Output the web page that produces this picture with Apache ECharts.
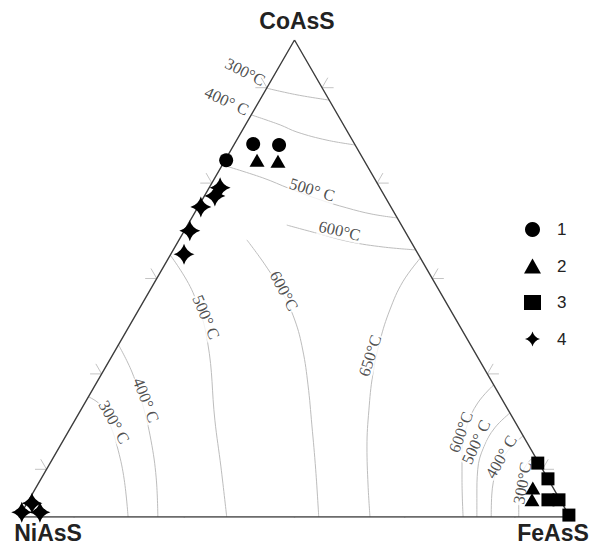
<!DOCTYPE html>
<html><head><meta charset="utf-8">
<script src="https://cdn.jsdelivr.net/npm/echarts@6/dist/echarts.min.js"></script>
<style>html,body{margin:0;padding:0;background:#fff}#c{width:590px;height:550px}</style>
</head><body><div id="c"></div>
<script>
// Compositions are [CoAsS, NiAsS, FeAsS] in percent
const vertexNames = ['CoAsS', 'NiAsS', 'FeAsS'];
const tickValues = [10, 30, 50, 70, 90];
const legendNames = ['1', '2', '3', '4'];

const group1 = [[74.8, 25.0, 0.2], [78.2, 18.4, 3.4], [78.0, 13.8, 8.2]];
const group2 = [[74.8, 19.4, 5.8], [74.6, 15.7, 9.7], [6.1, 3.7, 90.2], [3.6, 5.1, 91.3]];
const group3 = [[11.3, 0.2, 88.5], [8.0, 0.0, 92.0], [3.6, 2.2, 94.2], [3.6, 0.2, 96.2], [0.4, 0.0, 99.6]];
const group4 = [[69.0, 29.0, 2.0], [67.3, 30.8, 1.9], [65.0, 34.5, 0.5], [60.0, 39.0, 1.0], [55.1, 42.5, 2.4],
                [2.9, 96.2, 0.9], [1.0, 99.0, 0.0], [1.0, 95.7, 3.3]];

// isotherms
const isoTop300 = [[89.9, 10.1, 0], [88.5, 5.3, 6.2], [87.4, 0, 12.6]];
const isoTop400 = [[84.3, 15.7, 0], [82.2, 11.5, 6.3], [80.7, 9.2, 10.1], [79.0, 4.6, 16.4], [78.0, 0, 22.0]];
const isoTop500 = [[73.8, 26.2, 0], [71.1, 20.2, 8.7], [68.8, 16.4, 14.8], [66.5, 12.1, 21.4], [64.8, 8.1, 27.1], [63.5, 4.2, 32.3], [62.7, 0, 37.3]];
const isoTop600 = [[61.2, 20.8, 18.0], [59.5, 16.2, 24.3], [57.7, 11.1, 31.2], [56.6, 5.6, 37.8], [56.0, 0, 44.0]];
const isoMid500 = [[54.9, 45.1, 0], [47.0, 44.9, 8.1], [36.5, 47.5, 16.0], [20.3, 54.3, 25.4], [10.5, 58.1, 31.4], [0, 62.3, 37.7]];
const isoMid600 = [[58.1, 29.6, 12.3], [52.8, 28.9, 18.3], [47.2, 28.7, 24.1], [41.3, 29.3, 29.4], [35.0, 31.0, 34.0], [27.7, 33.7, 38.6], [19.3, 37.2, 43.5], [9.9, 41.2, 48.9], [0, 45.6, 54.4]];
const isoMid650 = [[54.3, 0, 45.7], [49.3, 5.7, 45.0], [43.4, 11.0, 45.6], [37.1, 15.9, 47.0], [29.8, 20.9, 49.3], [22.4, 25.3, 52.3], [14.7, 29.5, 55.8], [6.7, 33.3, 60.0], [0, 36.3, 63.7]];
const isoLeft400 = [[36.1, 63.9, 0], [30.4, 64.3, 5.3], [23.5, 65.8, 10.7], [16.1, 68.0, 15.9], [8.2, 71.0, 20.8], [0, 74.8, 25.2]];
const isoLeft300 = [[25.2, 74.8, 0], [23.5, 73.5, 3.0], [19.3, 73.8, 6.9], [14.0, 75.0, 11.0], [7.8, 77.0, 15.2], [0, 80.2, 19.8]];
const isoRight600 = [[27.7, 0, 72.3], [23.9, 4.8, 71.3], [19.3, 9.0, 71.7], [14.0, 12.6, 73.4], [7.8, 15.7, 76.5], [0, 19.4, 80.6]];
const isoRight500 = [[21.8, 0, 78.2], [18.7, 4.3, 77.0], [14.7, 8.3, 77.0], [9.9, 11.8, 78.3], [4.6, 14.6, 80.8], [0, 16.9, 83.1]];
const isoRight400 = [[17.0, 0, 83.0], [14.0, 4.2, 81.8], [9.9, 8.3, 81.8], [4.6, 11.9, 83.5], [0, 14.3, 85.7]];
const isoRight300 = [[12.8, 0, 87.2], [10.9, 2.5, 86.6], [8.2, 4.8, 87.0], [4.6, 7.0, 88.4], [0, 9.3, 90.7]];

const isoLabels = ['300°C', '400° C', '500° C', '600°C', '500° C', '600°C', '650°C', '400° C', '300° C', '600°C', '500° C', '400° C', '300°C'];
const isoLabelAt = [[93.3, 12.3, -5.6], [87.2, 18.7, -5.9], [68.6, 12.5, 18.9], [60.0, 11.8, 28.2], [41.9, 45.1, 13.0],
                    [47.4, 28.2, 24.4], [33.8, 19.4, 46.8], [24.5, 64.7, 10.8], [19.9, 72.8, 7.3], [17.8, 10.9, 71.3],
                    [15.7, 9.2, 75.1], [12.6, 6.2, 81.2], [7.1, 5.1, 87.8]];

// ---------- rendering ----------
const H = Math.sqrt(3) / 2;
function toXY(p) {
  const s = p[0] + p[1] + p[2];
  const a = p[0] / s, c = p[2] / s;
  return [c + a / 2, a * H];
}
const isoCurves = [isoTop300, isoTop400, isoTop500, isoTop600, isoMid500, isoMid600, isoMid650,
                   isoLeft400, isoLeft300, isoRight600, isoRight500, isoRight400, isoRight300];
const labelAngles = [-27, -25, -17, -13, -67, -62, 72, -69, -61, 70, 65, 60, 80];

const frame = [[100, 0, 0], [0, 100, 0], [0, 0, 100], [100, 0, 0]].map(toXY);

const L = 0.021;
const tickData = [];
function addTick(p, d1, d2) {
  const q = toXY(p);
  tickData.push([q[0] + d1[0] * L, q[1] + d1[1] * L], q, [q[0] + d2[0] * L, q[1] + d2[1] * L], '-');
}
tickValues.forEach(t => {
  addTick([0, 100 - t, t], [-0.5, -H], [0.5, -H]);
  addTick([t, 100 - t, 0], [-1, 0], [-0.5, H]);
  addTick([t, 0, 100 - t], [1, 0], [0.5, H]);
});

const starPath = 'path://M0,-10 Q2.2,-2.2 10,0 Q2.2,2.2 0,10 Q-2.2,2.2 -10,0 Q-2.2,-2.2 0,-10 Z';

const series = [];
isoCurves.forEach(c => series.push({
  type: 'line', data: c.map(toXY), symbol: 'none', smooth: 0.4, silent: true, z: 1,
  lineStyle: { color: '#bdbdbd', width: 1 }
}));
series.push({
  type: 'scatter', silent: true, z: 2, symbolSize: 0.1, itemStyle: { color: 'rgba(0,0,0,0)' },
  data: isoLabels.map((t, i) => ({ name: t, value: toXY(isoLabelAt[i]), label: { rotate: labelAngles[i] } })),
  label: {
    show: true, position: 'inside', formatter: p => p.name,
    fontFamily: 'Liberation Serif', fontSize: 16.5, color: '#222',
    backgroundColor: '#fff', padding: [0, 1]
  }
});
series.push({
  type: 'line', data: tickData, symbol: 'none', silent: true, z: 4, connectNulls: false,
  lineStyle: { color: '#c4c4c4', width: 1 }
});
series.push({
  type: 'line', data: frame, symbol: 'none', silent: true, z: 5,
  lineStyle: { color: '#3c3c3c', width: 1.4 }
});
const symbols = ['circle', 'triangle', 'rect', starPath];
const sizes = [14, [15, 13], 13, 21];
[group1, group2, group3, group4].forEach((g, i) => series.push({
  name: legendNames[i], type: 'scatter', z: 6, data: g.map(toXY),
  symbol: symbols[i], symbolSize: sizes[i], symbolKeepAspect: true,
  itemStyle: { color: '#000', opacity: 1 }
}));

const chart = echarts.init(document.getElementById('c'), null, { renderer: 'svg' });
chart.setOption({
  animation: false,
  backgroundColor: '#fff',
  grid: { left: 19, right: 20, top: 40, bottom: 33 },
  xAxis: { type: 'value', min: 0, max: 1, show: false },
  yAxis: { type: 'value', min: 0, max: H, show: false },
  legend: {
    data: legendNames.map((n, i) => ({ name: n, icon: i === 3 ? starPath : symbols[i] })),
    orient: 'vertical', left: 519, top: 216,
    itemWidth: 17, itemHeight: 15, itemGap: 19.5,
    itemStyle: { color: '#000', opacity: 1 },
    textStyle: { fontFamily: 'Liberation Sans', fontSize: 17, color: '#222', lineHeight: 16, padding: [0, 0, 0, 11] }
  },
  graphic: [
    { type: 'text', x: 297, y: 21, style: { text: vertexNames[0], font: 'bold 23px "Liberation Sans"', fill: '#222', textAlign: 'center', textVerticalAlign: 'middle', align: 'center', verticalAlign: 'middle' } },
    { type: 'text', x: 48, y: 533, style: { text: vertexNames[1], font: 'bold 23px "Liberation Sans"', fill: '#222', textAlign: 'center', textVerticalAlign: 'middle', align: 'center', verticalAlign: 'middle' } },
    { type: 'text', x: 553, y: 533, style: { text: vertexNames[2], font: 'bold 23px "Liberation Sans"', fill: '#222', textAlign: 'center', textVerticalAlign: 'middle', align: 'center', verticalAlign: 'middle' } }
  ],
  series: series
});
</script></body></html>
